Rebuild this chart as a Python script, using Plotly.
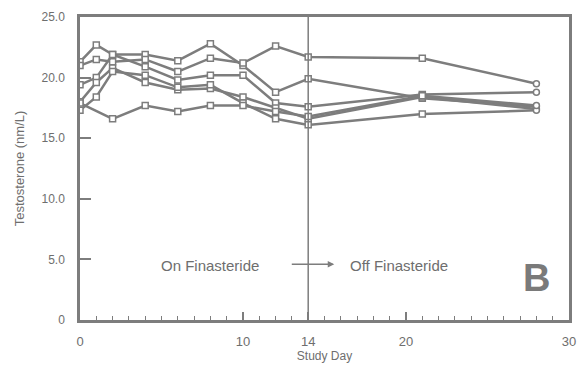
import plotly.graph_objects as go

days = [0, 1, 2, 4, 6, 8, 10, 12, 14, 21, 28]
subj1 = [21.3, 22.7, 21.9, 21.9, 21.4, 22.8, 21.0, 18.8, 19.9, 18.3, 17.6]
subj2 = [21.0, 21.5, 21.3, 21.5, 20.5, 21.6, 21.2, 22.6, 21.7, 21.6, 19.5]
subj3 = [19.4, 20.0, 21.9, 20.9, 19.8, 20.2, 20.2, 17.9, 17.6, 18.6, 18.8]
subj4 = [18.0, 19.6, 20.8, 19.6, 19.0, 19.1, 18.4, 17.5, 16.6, 18.4, 17.4]
subj5 = [17.3, 18.4, 20.5, 20.2, 19.2, 19.4, 17.9, 16.6, 16.1, 17.0, 17.3]
subj6 = [17.9, None, 16.6, 17.7, 17.2, 17.7, 17.7, 17.2, 16.8, 18.5, 17.7]
series = [subj1, subj2, subj3, subj4, subj5, subj6]

x_ticks = [0, 10, 14, 20, 30]
y_ticks = [0, 5, 10, 15, 20, 25]
y_labels = ["0", "5.0", "10.0", "15.0", "20.0", "25.0"]

gray = "#7d7d7d"
text_gray = "#6e6e6e"
font_family = "Liberation Sans, Arial, sans-serif"

fig = go.Figure()
symbols = ["square"] * (len(days) - 1) + ["circle"]
for s in series:
    fig.add_trace(go.Scatter(
        x=days, y=s, mode="lines+markers", connectgaps=True,
        line=dict(color=gray, width=2.5),
        marker=dict(symbol=symbols, size=6, color="white",
                    line=dict(color=gray, width=1.5)),
        showlegend=False, hoverinfo="skip"))

fig.add_shape(type="line", x0=14, x1=14, y0=0, y1=25, xref="x", yref="y",
              line=dict(color=gray, width=1.5))

fig.add_annotation(x=8.0, y=4.5, text="On Finasteride", showarrow=False,
                   font=dict(size=15, color=text_gray, family=font_family))
fig.add_annotation(x=19.6, y=4.5, text="Off Finasteride", showarrow=False,
                   font=dict(size=15, color=text_gray, family=font_family))
fig.add_annotation(x=15.6, y=4.6, ax=12.9, ay=4.6, xref="x", yref="y",
                   axref="x", ayref="y", text="", showarrow=True,
                   arrowhead=2, arrowsize=1, arrowwidth=1.3, arrowcolor=gray)
fig.add_annotation(x=28.0, y=3.5, text="<b>B</b>", showarrow=False,
                   font=dict(size=38, color="#7a7a7a", family=font_family))

fig.update_layout(
    width=582, height=367,
    margin=dict(l=80, r=13, t=17, b=47),
    paper_bgcolor="white", plot_bgcolor="white",
    font=dict(family=font_family, color=text_gray, size=12),
    xaxis=dict(range=[0, 30], tickvals=x_ticks, ticktext=[str(v) for v in x_ticks],
               ticks="inside", ticklen=8, tickwidth=1.5, tickcolor=gray,
               minor=dict(dtick=1, ticks="inside", ticklen=4, tickcolor=gray, tickwidth=1),
               showgrid=False, zeroline=False, showline=True, linecolor=gray,
               linewidth=2.5, mirror=True, ticklabelstandoff=8, automargin=False,
               title=dict(text="Study Day", font=dict(size=12, color=text_gray), standoff=4),
               tickfont=dict(size=13, color=text_gray)),
    yaxis=dict(range=[0, 25], tickvals=y_ticks, ticktext=y_labels,
               ticks="inside", ticklen=11, tickwidth=1.5, tickcolor=gray,
               showgrid=False, zeroline=False, showline=True, linecolor=gray,
               linewidth=2.5, mirror=True, ticklabelstandoff=10, automargin=False,
               title=dict(text="Testosterone (nm/L)", font=dict(size=13, color=text_gray), standoff=14),
               tickfont=dict(size=12, color=text_gray)),
)

fig.write_html("out.html")
